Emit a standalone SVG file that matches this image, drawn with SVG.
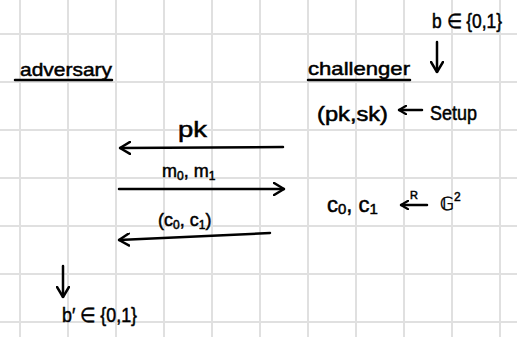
<svg xmlns="http://www.w3.org/2000/svg" width="517" height="337" viewBox="0 0 517 337">
<style>
.grid line{stroke:#e0e0e0;stroke-width:2}
text{font-family:"Liberation Sans",Arial,sans-serif;fill:#000;stroke:#000;stroke-width:0.5}
.c{stroke:#000;stroke-width:2.5;fill:none;stroke-linecap:round;stroke-linejoin:round}
.sub{font-size:12px}
</style>
<defs>
<marker id="ah" viewBox="0 0 12 14" refX="11" refY="7" markerWidth="12" markerHeight="14" markerUnits="userSpaceOnUse" orient="auto">
<path d="M1,1 L11,7 L1,13" fill="none" stroke="#000" stroke-width="2.5" stroke-linecap="round" stroke-linejoin="round"/>
</marker>
<marker id="ahs" viewBox="0 0 12 14" refX="11" refY="7" markerWidth="9" markerHeight="10" markerUnits="userSpaceOnUse" orient="auto">
<path d="M1,1 L11,7 L1,13" fill="none" stroke="#000" stroke-width="3" stroke-linecap="round" stroke-linejoin="round"/>
</marker>
</defs>
<rect width="517" height="337" fill="#fff"/>
<g class="grid">
<line x1="20" y1="0" x2="20" y2="337"/><line x1="68" y1="0" x2="68" y2="337"/><line x1="116" y1="0" x2="116" y2="337"/><line x1="164" y1="0" x2="164" y2="337"/><line x1="212" y1="0" x2="212" y2="337"/><line x1="260" y1="0" x2="260" y2="337"/><line x1="308" y1="0" x2="308" y2="337"/><line x1="356" y1="0" x2="356" y2="337"/><line x1="404" y1="0" x2="404" y2="337"/><line x1="452" y1="0" x2="452" y2="337"/><line x1="500" y1="0" x2="500" y2="337"/>
<line x1="0" y1="34" x2="517" y2="34"/><line x1="0" y1="82" x2="517" y2="82"/><line x1="0" y1="130" x2="517" y2="130"/><line x1="0" y1="178" x2="517" y2="178"/><line x1="0" y1="226" x2="517" y2="226"/><line x1="0" y1="274" x2="517" y2="274"/><line x1="0" y1="322" x2="517" y2="322"/>
</g>
<g id="adversary">
<text x="20" y="76" font-size="19" textLength="92" lengthAdjust="spacingAndGlyphs">adversary</text>
<line class="c" x1="15" y1="80" x2="112" y2="80"/>
</g>
<g id="challenger">
<text x="308" y="75" font-size="19" textLength="102" lengthAdjust="spacingAndGlyphs">challenger</text>
<line class="c" x1="308" y1="80" x2="410" y2="80"/>
</g>
<g id="b-choice"><text x="432" y="28" font-size="20" textLength="70" lengthAdjust="spacingAndGlyphs">b ∈ {0,1}</text></g>
<g id="keys"><text x="317" y="121" font-size="20" textLength="71" lengthAdjust="spacingAndGlyphs">(pk,sk)</text></g>
<g id="setup"><text x="430" y="120" font-size="20" textLength="47" lengthAdjust="spacingAndGlyphs">Setup</text></g>
<g id="msg-pk"><text x="178" y="137" font-size="22" textLength="29" lengthAdjust="spacingAndGlyphs">pk</text></g>
<g id="msg-m"><text x="162" y="177" font-size="18">m<tspan class="sub" dy="3">0</tspan><tspan dy="-3">, m</tspan><tspan class="sub" dy="3">1</tspan></text></g>
<g id="msg-c"><text x="158" y="226" font-size="18">(c<tspan class="sub" dy="3">0</tspan><tspan dy="-3">, c</tspan><tspan class="sub" dy="3">1</tspan><tspan dy="-3">)</tspan></text></g>
<g id="sample">
<text x="327" y="212" font-size="22">c<tspan font-size="15" dy="2">0</tspan><tspan dy="-2">, c</tspan><tspan font-size="15" dy="2">1</tspan></text>
<text x="410" y="199" font-size="11">R</text>
<text x="440" y="210" font-family="DejaVu Sans,sans-serif" font-size="18">𝔾<tspan class="sub" dy="-9">2</tspan></text>
</g>
<g id="b-guess"><text x="62" y="322" font-size="20" textLength="75" lengthAdjust="spacingAndGlyphs">b′ ∈ {0,1}</text></g>
<g id="connectors">
<line class="c" x1="437" y1="42" x2="437" y2="72" marker-end="url(#ah)"/>
<line class="c" x1="422" y1="110" x2="399" y2="110" marker-end="url(#ahs)"/>
<line class="c" x1="283" y1="147" x2="120" y2="148" marker-end="url(#ah)"/>
<line class="c" x1="119" y1="189" x2="284" y2="189" marker-end="url(#ah)"/>
<line class="c" x1="270" y1="233" x2="119" y2="240" marker-end="url(#ah)"/>
<line class="c" x1="427" y1="205" x2="401" y2="205" marker-end="url(#ahs)"/>
<line class="c" x1="63" y1="266" x2="63" y2="297" marker-end="url(#ah)"/>
</g>
</svg>
